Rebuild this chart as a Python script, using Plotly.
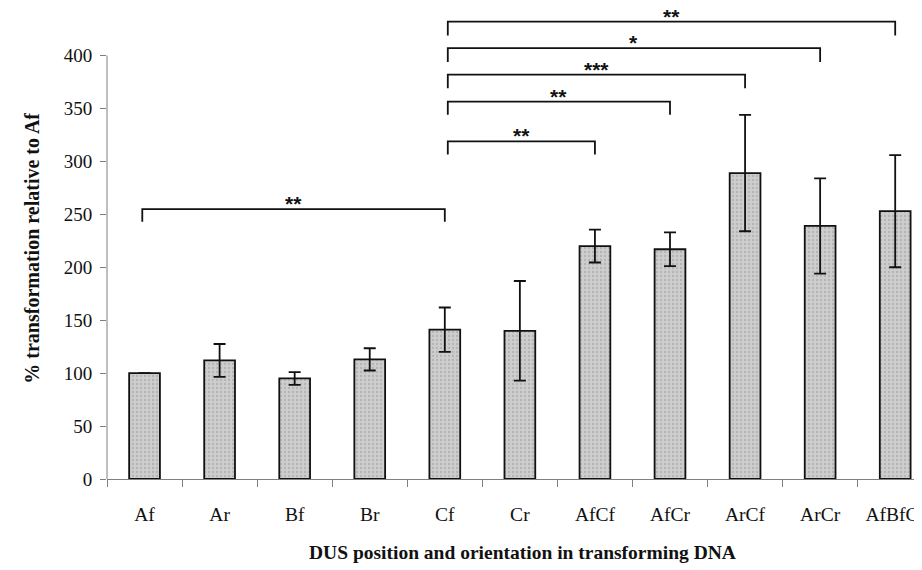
import plotly.graph_objects as go

categories = ["Af", "Ar", "Bf", "Br", "Cf", "Cr", "AfCf", "AfCr", "ArCf", "ArCr", "AfBfCf"]
values = [100, 112, 95, 113, 141, 140, 220, 217, 289, 239, 253]
errors = [0, 15.5, 6, 10.5, 21, 47, 15.5, 16, 55, 45, 53]
yticks = [0, 50, 100, 150, 200, 250, 300, 350, 400]

# significance brackets: (start category, end category, height, leg drop, label)
brackets = [
    ("Af", "Cf", 255, 12, "**"),
    ("Cf", "AfCf", 319, 12.5, "**"),
    ("Cf", "AfCr", 356.5, 12.5, "**"),
    ("Cf", "ArCf", 382, 13, "***"),
    ("Cf", "ArCr", 407, 13, "*"),
    ("Cf", "AfBfCf", 432, 13, "**"),
]

SERIF = "Liberation Serif, Times New Roman, serif"

fig = go.Figure()
fig.add_trace(go.Bar(
    x=categories,
    y=values,
    width=0.41,
    marker=dict(
        color="#c4c4c4",
        line=dict(color="#111111", width=1.8),
        pattern=dict(shape=".", fgcolor="#999999", bgcolor="#cdcdcd", size=4, solidity=0.25),
    ),
    error_y=dict(type="data", array=errors, visible=True, color="#111111", thickness=1.8, width=6),
    showlegend=False,
))

shapes = []
annotations = []
idx = {c: i for i, c in enumerate(categories)}
for a, b, h, drop, lab in brackets:
    x0 = idx[a] + 0.04 if a == "Cf" else idx[a] - 0.03
    x1 = idx[b]
    shapes.append(dict(type="path", xref="x", yref="y",
                       path=f"M {x0},{h - drop} L {x0},{h} L {x1},{h} L {x1},{h - drop}",
                       line=dict(color="#111111", width=1.8)))
    annotations.append(dict(x=(x0 + x1) / 2, y=h, xref="x", yref="y", text="<b>" + lab + "</b>",
                            showarrow=False, yanchor="bottom", yshift=-8,
                            font=dict(family="Liberation Sans, Arial, sans-serif", size=21, color="#111111")))

# y axis line only up to 400
shapes.append(dict(type="line", xref="paper", yref="y", x0=0, x1=0, y0=0, y1=400,
                   line=dict(color="#808080", width=1)))

annotations.append(dict(xref="paper", yref="paper", x=-75 / 815, y=(479.3 - 249) / 469,
                        text="<b>% transformation relative to Af</b>", textangle=-90,
                        showarrow=False, xanchor="center", yanchor="middle",
                        font=dict(family=SERIF, size=20, color="#111111")))
annotations.append(dict(xref="paper", yref="paper", x=(522 - 107) / 815, y=-(553 - 479.3) / 469,
                        text="<b>DUS position and orientation in transforming DNA</b>",
                        showarrow=False, xanchor="center", yanchor="middle",
                        font=dict(family=SERIF, size=19.5, color="#111111")))

# page body has an 8px margin; the figure is sized to fill the rest of the window
fig.update_layout(
    width=914, height=562,
    margin=dict(l=99, r=0, t=2, b=91, autoexpand=False),
    paper_bgcolor="white", plot_bgcolor="white",
    shapes=shapes, annotations=annotations,
    xaxis=dict(
        type="category", range=[-0.5, 10.357], automargin=False,
        showline=True, linecolor="#808080", linewidth=1,
        ticks="outside", tickson="boundaries", ticklen=7, tickcolor="#808080",
        tickfont=dict(family=SERIF, size=19.5, color="#111111"),
        ticklabelstandoff=18,
        showgrid=False, zeroline=False,
    ),
    yaxis=dict(
        range=[0, 443], automargin=False,
        tickvals=yticks, ticktext=[str(v) for v in yticks],
        showline=False, ticks="outside", ticklen=6, tickcolor="#808080",
        tickfont=dict(family=SERIF, size=19, color="#111111"),
        ticklabelstandoff=4,
        showgrid=False, zeroline=False,
    ),
    bargap=0.59,
)

fig.write_html("out.html")
